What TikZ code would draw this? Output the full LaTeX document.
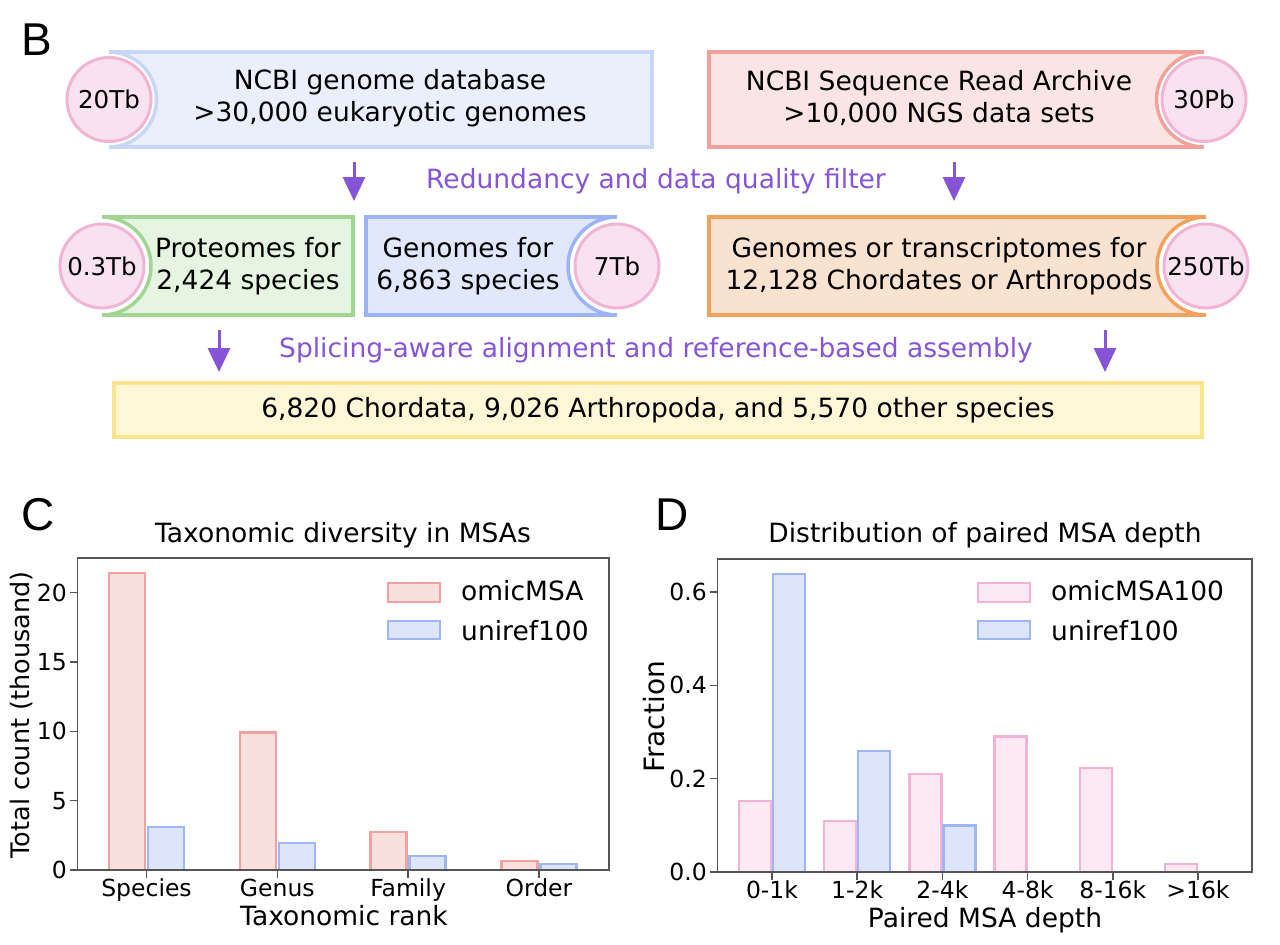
\documentclass[tikz,border=0pt]{standalone}
\usepackage{fontspec}
\setmainfont{DejaVu Sans}
\newfontfamily\panelfont{Liberation Sans}
\usetikzlibrary{arrows.meta}

\definecolor{diskfill}{RGB}{249,226,239}
\definecolor{diskline}{RGB}{242,180,212}
\definecolor{gdbfill}{RGB}{235,239,252}
\definecolor{gdbline}{RGB}{200,214,248}
\definecolor{srafill}{RGB}{251,228,228}
\definecolor{sraline}{RGB}{240,162,154}
\definecolor{protfill}{RGB}{230,244,226}
\definecolor{protline}{RGB}{160,214,146}
\definecolor{genofill}{RGB}{225,232,251}
\definecolor{genoline}{RGB}{156,180,245}
\definecolor{seqfill}{RGB}{250,226,208}
\definecolor{seqline}{RGB}{242,162,92}
\definecolor{resfill}{RGB}{255,247,214}
\definecolor{resline}{RGB}{250,228,140}
\definecolor{flowpurple}{RGB}{134,84,214}
\definecolor{omicfill}{RGB}{250,223,223}
\definecolor{omicline}{RGB}{243,160,160}
\definecolor{unifill}{RGB}{221,229,250}
\definecolor{uniline}{RGB}{158,182,245}
\definecolor{pinkfill}{RGB}{252,233,243}
\definecolor{pinkline}{RGB}{244,178,212}
\definecolor{spine}{RGB}{85,85,85}

\begin{document}
\begin{tikzpicture}[x=1pt,y=-1pt,
    disk/.style={circle,draw=diskline,fill=diskfill,line width=3pt,minimum size=84pt,inner sep=0pt,font=\fontsize{24.5}{28}\selectfont},
    boxtext/.style={align=center,inner sep=0pt,font=\fontsize{26.5}{31.5}\selectfont},
    boxedge/.style={line width=3.5pt},
    flow/.style={draw=flowpurple,line width=3pt,-{Triangle[width=22pt,length=24pt]}},
    flowtext/.style={text=flowpurple,anchor=base,inner sep=0pt,font=\fontsize{26.5}{31.5}\selectfont},
    panel/.style={anchor=base west,inner sep=0pt,font=\panelfont\fontsize{46}{50}\selectfont},
    charttitle/.style={anchor=base,inner sep=0pt,font=\fontsize{26.5}{30}\selectfont},
    axislabel/.style={inner sep=0pt,font=\fontsize{26.5}{30}\selectfont},
    ticklabel/.style={inner sep=0pt,font=\fontsize{23.5}{26}\selectfont},
    legendtext/.style={anchor=base west,inner sep=0pt,font=\fontsize{26.5}{30}\selectfont},
    spines/.style={draw=spine,line width=1.5pt},
    omicbar/.style={draw=omicline,fill=omicfill,line width=2.5pt},
    unibar/.style={draw=uniline,fill=unifill,line width=2.5pt},
    pinkbar/.style={draw=pinkline,fill=pinkfill,line width=2.5pt}]
  \useasboundingbox (0,0) rectangle (1280,945);

  % ---------- panel B ----------
  \node[panel] (B) at (21,55) {B};

  % genome database
  \fill[gdbfill] (109,52) rectangle (652,147);
  \fill[white] (109,99.5) circle[radius=49];
  \draw[gdbline,boxedge] (109,52) -- (652,52) -- (652,147) -- (109,147);
  \draw[gdbline,boxedge] (109,52) arc[start angle=-90,end angle=90,radius=47.5];
  \node[disk] (gdbsize) at (109,99.5) {20Tb};
  \node[boxtext] (gdb) at (390,98) {NCBI genome database\\>30,000 eukaryotic genomes};

  % read archive
  \fill[srafill] (709,52) rectangle (1204,147);
  \fill[white] (1204,99.5) circle[radius=49];
  \draw[sraline,boxedge] (1204,52) -- (709,52) -- (709,147) -- (1204,147);
  \draw[sraline,boxedge] (1204,52) arc[start angle=-90,end angle=-270,radius=47.5];
  \node[disk] (srasize) at (1204,99.5) {30Pb};
  \node[boxtext] (sra) at (939,98) {NCBI Sequence Read Archive\\>10,000 NGS data sets};

  \coordinate (f1a) at (354,162);
  \coordinate (f1b) at (354,201);
  \coordinate (f2a) at (954,162);
  \coordinate (f2b) at (954,201);
  \draw[flow] (f1a) -- (f1b);
  \draw[flow] (f2a) -- (f2b);
  \node[flowtext] (filter) at (656,188) {Redundancy and data quality filter};

  % proteomes
  \fill[protfill] (102,217) rectangle (353,315);
  \fill[white] (102,266) circle[radius=50.5];
  \draw[protline,boxedge] (102,217) -- (353,217) -- (353,315) -- (102,315);
  \draw[protline,boxedge] (102,217) arc[start angle=-90,end angle=90,radius=49];
  \node[disk] (protsize) at (102,266) {0.3Tb};
  \node[boxtext] (prot) at (248,266) {Proteomes for\\2,424 species};

  % genomes
  \fill[genofill] (366,217) rectangle (617,315);
  \fill[white] (617,266) circle[radius=50.5];
  \draw[genoline,boxedge] (617,217) -- (366,217) -- (366,315) -- (617,315);
  \draw[genoline,boxedge] (617,217) arc[start angle=-90,end angle=-270,radius=49];
  \node[disk] (genosize) at (617,266) {7Tb};
  \node[boxtext] (geno) at (468,266) {Genomes for\\6,863 species};

  % sequencing data
  \fill[seqfill] (709,217) rectangle (1206,315);
  \fill[white] (1206,266) circle[radius=50.5];
  \draw[seqline,boxedge] (1206,217) -- (709,217) -- (709,315) -- (1206,315);
  \draw[seqline,boxedge] (1206,217) arc[start angle=-90,end angle=-270,radius=49];
  \node[disk] (seqsize) at (1206,266) {250Tb};
  \node[boxtext] (seq) at (939,266) {Genomes or transcriptomes for\\12,128 Chordates or Arthropods};

  \coordinate (f3a) at (219,330);
  \coordinate (f3b) at (219,372);
  \coordinate (f4a) at (1105,330);
  \coordinate (f4b) at (1105,372);
  \draw[flow] (f3a) -- (f3b);
  \draw[flow] (f4a) -- (f4b);
  \node[flowtext] (align) at (656,357) {Splicing-aware alignment and reference-based assembly};

  \draw[resline,fill=resfill,boxedge] (114,383) rectangle (1202,437);
  \node[boxtext] (result) at (658,410) {6,820 Chordata, 9,026 Arthropoda, and 5,570 other species};

  % ---------- panel C ----------
  \node[panel] (C) at (21,530) {C};
  \node[charttitle] (ctitle) at (343,542) {Taxonomic diversity in MSAs};
  \foreach \r/\b [count=\i from 0] in {21.4/3.1,9.9/1.95,2.75/1.0,0.65/0.45} {
    \pgfmathsetmacro\cx{146.5+130.8*\i}
    \draw[omicbar] ({\cx-37.5},870) rectangle ({\cx-1.5},{870-13.87*\r});
    \draw[unibar] ({\cx+1.5},870) rectangle ({\cx+37.5},{870-13.87*\b});
  }
  \draw[spines] (77.5,558) rectangle (609,870);
  \foreach \t in {0,5,10,15,20} {
    \draw[spines] (77.5,{870-13.87*\t}) -- ++(-8,0);
    \node[ticklabel,anchor=east] (cy\t) at (67,{870-13.87*\t}) {\t};
  }
  \foreach \n [count=\i from 0] in {Species,Genus,Family,Order} {
    \draw[spines] ({146.5+130.8*\i},870) -- ++(0,8);
    \node[ticklabel,anchor=base] (cx\i) at ({146.5+130.8*\i},896) {\n};
  }
  \node[axislabel,anchor=base] (cxlabel) at (344,925) {Taxonomic rank};
  \node[axislabel,rotate=90,font=\fontsize{25.5}{30}\selectfont] (cylabel) at (21,715) {Total count (thousand)};
  \draw[omicbar] (388,583) rectangle (440,602);
  \node[legendtext] (cleg1) at (461,600) {omicMSA};
  \draw[unibar] (388,621) rectangle (440,639);
  \node[legendtext] (cleg2) at (461,640) {uniref100};

  % ---------- panel D ----------
  \node[panel] (D) at (655,530) {D};
  \node[charttitle] (dtitle) at (985,542) {Distribution of paired MSA depth};
  \foreach \p/\u [count=\i from 0] in {0.152/0.639,0.109/0.259,0.21/0.10,0.29/0,0.223/0,0.017/0} {
    \pgfmathsetmacro\cx{772+85.2*\i}
    \draw[pinkbar] ({\cx-33},872) rectangle ({\cx-1},{872-466.7*\p});
    \ifdim\u pt>0pt
      \draw[unibar] ({\cx+1},872) rectangle ({\cx+33},{872-466.7*\u});
    \fi
  }
  \draw[spines] (717.5,559) rectangle (1252,872);
  \foreach \t in {0.0,0.2,0.4,0.6} {
    \draw[spines] (717.5,{872-466.7*\t}) -- ++(-8,0);
    \node[ticklabel,anchor=east] (dy\t) at (707,{872-466.7*\t}) {\t};
  }
  \foreach \n [count=\i from 0] in {0-1k,1-2k,2-4k,4-8k,8-16k,>16k} {
    \draw[spines] ({772+85.2*\i},872) -- ++(0,8);
    \node[ticklabel,anchor=base] (dx\i) at ({772+85.2*\i},898) {\n};
  }
  \node[axislabel,anchor=base] (dxlabel) at (985,927) {Paired MSA depth};
  \node[axislabel,rotate=90,font=\fontsize{28}{30}\selectfont] (dylabel) at (654,717) {Fraction};
  \draw[pinkbar] (978,583) rectangle (1030,602);
  \node[legendtext] (dleg1) at (1051,600) {omicMSA100};
  \draw[unibar] (978,621) rectangle (1030,639);
  \node[legendtext] (dleg2) at (1051,640) {uniref100};
\end{tikzpicture}
\end{document}
